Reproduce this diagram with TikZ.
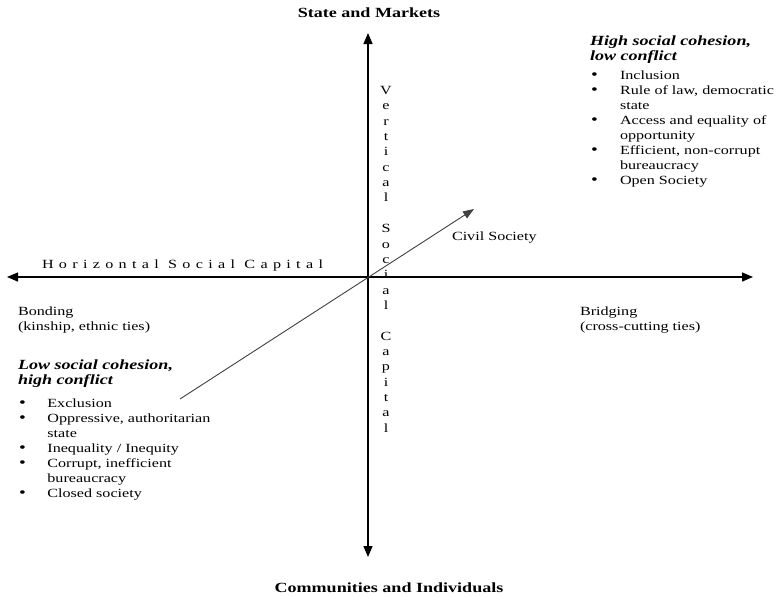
\documentclass[tikz,border=0pt]{standalone}
\usepackage{fontspec}
\setmainfont{Liberation Serif}
\newfontfamily\spacedserif[LetterSpace=33]{Liberation Serif}
\usetikzlibrary{arrows.meta}
\newcommand{\bodysize}{\fontsize{12.5}{15}\selectfont}
\newcommand{\headsize}{\fontsize{14}{15.5}\selectfont}
\newcommand{\dotmark}{{\fontsize{15}{15}\selectfont\textbullet}}
\begin{document}
\begin{tikzpicture}[x=1pt, y=-1pt,
  txt/.style={inner sep=0pt, outer sep=0pt, xscale=1.29, font=\bodysize, align=left},
  head/.style={txt, font=\headsize\bfseries},
  axis/.style={line width=1.3pt, draw=black, {Triangle[length=11pt,width=9pt]}-{Triangle[length=11pt,width=9pt]}},
  diag/.style={line width=0.9pt, draw=black!75, -{Triangle[length=11pt,width=8pt]}}]
\path[use as bounding box] (0,0) rectangle (778,597);

% axes
\coordinate (origin) at (368,277);
\coordinate (up)     at (368,33);
\coordinate (down)   at (368,557);
\coordinate (west)   at (7,277);
\coordinate (east)   at (753,277);
\coordinate (low)    at (180,399);
\coordinate (high)   at (474,209);
\draw[axis] (down) -- (up);
\draw[axis] (west) -- (east);
\draw[diag] (low) -- (high);

% axis end labels
\node[head, anchor=base] (state) at (369,17) {State and Markets};
\node[head, anchor=base] (comm)  at (389,592) {Communities and Individuals};

% horizontal axis title
\node[txt, anchor=base west] (horiz) at (42,268) {\spacedserif Horizontal Social Capital};

% vertical axis title, one letter per row
\node[txt, anchor=north, font=\fontsize{12.5}{15.35}\selectfont] (vert) at (386,83.8)
  {\begin{tabular}{@{}c@{}}V\\e\\r\\t\\i\\c\\a\\l\\ \\S\\o\\c\\i\\a\\l\\ \\C\\a\\p\\i\\t\\a\\l\end{tabular}};

\node[txt, anchor=base west] (civil) at (452,240) {Civil Society};

\node[txt, anchor=north west] (bonding) at (18,304.5)
  {\begin{tabular}{@{}l@{}}Bonding\\(kinship, ethnic ties)\end{tabular}};
\node[txt, anchor=north west] (bridging) at (580,304.5)
  {\begin{tabular}{@{}l@{}}Bridging\\(cross-cutting ties)\end{tabular}};

% high cohesion quadrant
\node[head, anchor=north west] (hightitle) at (590,34.5)
  {\begin{tabular}{@{}l@{}}\itshape High social cohesion,\\\itshape low conflict\end{tabular}};
\node[txt, anchor=north west] (highlist) at (591,68.5)
  {\begin{tabular}{@{\hspace{0pt}}p{22.5pt}@{}l@{}}
   \dotmark & Inclusion\\
   \dotmark & Rule of law, democratic\\
            & state\\
   \dotmark & Access and equality of\\
            & opportunity\\
   \dotmark & Efficient, non-corrupt\\
            & bureaucracy\\
   \dotmark & Open Society
   \end{tabular}};

% low cohesion quadrant
\node[head, anchor=north west] (lowtitle) at (18,358.5)
  {\begin{tabular}{@{}l@{}}\itshape Low social cohesion,\\\itshape high conflict\end{tabular}};
\node[txt, anchor=north west] (lowlist) at (19,396.5)
  {\begin{tabular}{@{\hspace{0pt}}p{22pt}@{}l@{}}
   \dotmark & Exclusion\\
   \dotmark & Oppressive, authoritarian\\
            & state\\
   \dotmark & Inequality / Inequity\\
   \dotmark & Corrupt, inefficient\\
            & bureaucracy\\
   \dotmark & Closed society
   \end{tabular}};
\end{tikzpicture}
\end{document}
